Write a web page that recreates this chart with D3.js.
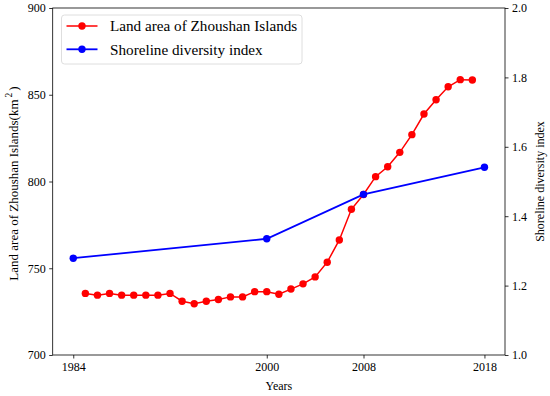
<!DOCTYPE html>
<html>
<head>
<meta charset="utf-8">
<script src="https://cdn.jsdelivr.net/npm/d3@7"></script>
<style>
  body { margin: 0; background: #fff; }
  text { font-family: "Liberation Serif", "Times New Roman", serif; }
</style>
</head>
<body>
<div id="chart"></div>
<script>
(function(d3) {
    'use strict'

    // land area, one value per year 1985-2017
    var areaYears = d3.range(1985, 2018);
    var areaValues = [735.5, 734.5, 735.5, 734.5, 734.5, 734.5, 734.5, 735.5, 731, 729.5,
        731, 732, 733.5, 733.5, 736.5, 736.5, 735, 738, 741, 745,
        753.5, 766.3, 784, 792.5, 802.8, 808.5, 816.8, 827, 838.9, 847.1,
        854.6, 858.7, 858.5];

    var sdiYears = [1984, 2000, 2008, 2018];
    var sdiValues = [1.279, 1.335, 1.463, 1.541];

    var xTicks = [1984, 2000, 2008, 2018];
    var leftTicks = [700, 750, 800, 850, 900];
    var rightTicks = [1.0, 1.2, 1.4, 1.6, 1.8, 2.0];

    var width = 550;
    var height = 396;
    var margin = { top: 8, right: 45, bottom: 41, left: 52.7 };
    var innerW = width - margin.left - margin.right;
    var innerH = height - margin.top - margin.bottom;

    var svg = d3.select('#chart')
        .append('svg')
        .attr('width', width)
        .attr('height', height);

    var g = svg.append('g')
        .attr('transform', 'translate(' + margin.left + ',' + margin.top + ')');

    // matplotlib-style 5% margin on x
    var x = d3.scaleLinear()
        .domain([1984 - 1.7, 2018 + 1.7])
        .range([0, innerW]);

    var yL = d3.scaleLinear().domain([700, 900]).range([innerH, 0]);
    var yR = d3.scaleLinear().domain([1.0, 2.0]).range([innerH, 0]);

    var xAxis = g.append('g')
        .attr('transform', 'translate(0,' + innerH + ')')
        .call(d3.axisBottom(x).tickValues(xTicks).tickFormat(d3.format('d')).tickSize(3.5).tickPadding(3.5));

    var lAxis = g.append('g')
        .call(d3.axisLeft(yL).tickValues(leftTicks).tickSize(3.5).tickPadding(3.5));

    var rAxis = g.append('g')
        .attr('transform', 'translate(' + innerW + ',0)')
        .call(d3.axisRight(yR).tickValues(rightTicks).tickFormat(d3.format('.1f')).tickSize(3.5).tickPadding(3.5));

    [xAxis, lAxis, rAxis].forEach(function(a) {
        a.select('.domain').remove();
        a.selectAll('line').attr('stroke', '#000').attr('stroke-width', 0.8);
        a.selectAll('text').attr('fill', '#000').style('font-size', '12px')
            .style('font-family', '"Liberation Serif", serif');
    });

    // frame
    g.append('rect')
        .attr('width', innerW)
        .attr('height', innerH)
        .attr('fill', 'none')
        .attr('stroke', '#000')
        .attr('stroke-width', 0.8);

    var areaLine = d3.line()
        .x(function(d, i) { return x(areaYears[i]); })
        .y(function(d) { return yL(d); });

    var sdiLine = d3.line()
        .x(function(d, i) { return x(sdiYears[i]); })
        .y(function(d) { return yR(d); });

    g.append('path')
        .datum(areaValues)
        .attr('d', areaLine)
        .attr('fill', 'none')
        .attr('stroke', 'red')
        .attr('stroke-width', 1.5);

    g.selectAll('.area-dot')
        .data(areaValues)
        .enter()
        .append('circle')
        .attr('class', 'area-dot')
        .attr('cx', function(d, i) { return x(areaYears[i]); })
        .attr('cy', function(d) { return yL(d); })
        .attr('r', 3.7)
        .attr('fill', 'red');

    g.append('path')
        .datum(sdiValues)
        .attr('d', sdiLine)
        .attr('fill', 'none')
        .attr('stroke', 'blue')
        .attr('stroke-width', 1.8);

    g.selectAll('.sdi-dot')
        .data(sdiValues)
        .enter()
        .append('circle')
        .attr('class', 'sdi-dot')
        .attr('cx', function(d, i) { return x(sdiYears[i]); })
        .attr('cy', function(d) { return yR(d); })
        .attr('r', 3.7)
        .attr('fill', 'blue');

    // axis titles
    svg.append('text')
        .attr('x', margin.left + innerW / 2)
        .attr('y', 390)
        .attr('text-anchor', 'middle')
        .style('font-size', '12px')
        .text('Years');

    var ly = svg.append('text')
        .attr('transform', 'translate(17.5,' + (margin.top + innerH / 2 + 2) + ') rotate(-90)')
        .attr('text-anchor', 'middle')
        .style('font-size', '13px');
    ly.append('tspan').text('Land area of Zhoushan Islands(km');
    ly.append('tspan').attr('dx', 2).attr('dy', -5.5).style('font-size', '9.5px').text('2');
    ly.append('tspan').attr('dx', 2).attr('dy', 5.5).text(')');

    svg.append('text')
        .attr('transform', 'translate(544,' + (margin.top + innerH / 2) + ') rotate(-90)')
        .attr('text-anchor', 'middle')
        .style('font-size', '12px')
        .text('Shoreline diversity index');

    // legend
    var legend = svg.append('g').attr('transform', 'translate(61.5,15)');
    legend.append('rect')
        .attr('width', 240.5)
        .attr('height', 49)
        .attr('rx', 3)
        .attr('fill', '#fff')
        .attr('fill-opacity', 0.8)
        .attr('stroke', '#d6d6d6')
        .attr('stroke-width', 0.8);

    var items = [
        { label: 'Land area of Zhoushan Islands', color: 'red', w: 1.5 },
        { label: 'Shoreline diversity index', color: 'blue', w: 1.8 }
    ];
    var row = legend.selectAll('.row')
        .data(items)
        .enter()
        .append('g')
        .attr('transform', function(d, i) { return 'translate(0,' + (11 + i * 23.3) + ')'; });
    row.append('line')
        .attr('x1', 5).attr('x2', 36)
        .attr('stroke', function(d) { return d.color; })
        .attr('stroke-width', function(d) { return d.w; });
    row.append('circle')
        .attr('cx', 20.5)
        .attr('r', 3.7)
        .attr('fill', function(d) { return d.color; });
    row.append('text')
        .attr('x', 48.5)
        .attr('dy', '0.35em')
        .style('font-size', '15.2px')
        .text(function(d) { return d.label; });

})(window.d3);
</script>
</body>
</html>
